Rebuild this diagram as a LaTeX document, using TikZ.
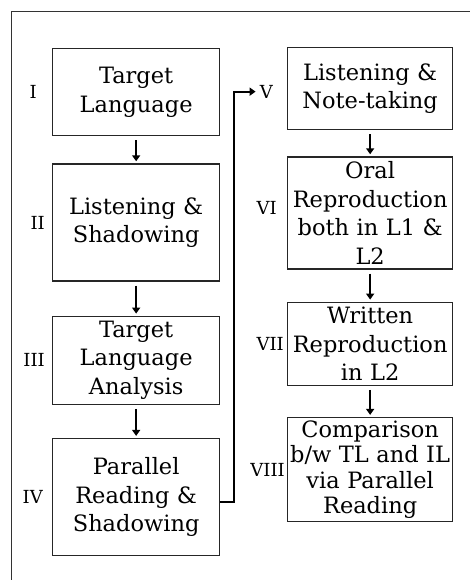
\documentclass[tikz,border=0pt]{standalone}
\usepackage{fontspec}
\setmainfont{DejaVu Serif}
\usetikzlibrary{positioning,arrows.meta}

\begin{document}
\begin{tikzpicture}[
    x=1pt, y=1pt,
    node distance=27pt,
    stagebox/.style={rectangle, draw=black!85, line width=1.3pt, text width=163pt, inner xsep=1pt, inner ysep=0pt, align=center, font=\fontsize{22.5}{28.5}\selectfont},
    numeral/.style={font=\fontsize{18}{20}\selectfont, inner sep=0pt},
    arrow/.style={-{Triangle[length=6pt,width=8pt]}, line width=2pt, shorten <=4pt, shorten >=2pt},
    link/.style={-{Triangle[length=6pt,width=8pt]}, line width=2pt, shorten >=4pt}
]
\useasboundingbox (0,0) rectangle (470,-580);

% Frame
\draw[line width=1pt, black!80] (11,-580) -- (11,-12) -- (470,-12);

% Left column
\node[stagebox, minimum width=167pt, minimum height=87pt, anchor=north west] (target) at (52,-48) {Target\\Language};
\node[stagebox, minimum width=167pt, minimum height=117pt, below=27pt of target] (shadow) {Listening \&\\Shadowing};
\node[stagebox, minimum width=167pt, minimum height=88pt, below=34pt of shadow] (analysis) {Target\\Language\\Analysis};
\node[stagebox, minimum width=167pt, minimum height=117pt, below=33pt of analysis] (parallel) {Parallel\\Reading \&\\Shadowing};

% Right column
\node[stagebox, minimum height=82pt, anchor=north west] (notes) at (287,-47) {Listening \&\\Note-taking};
\node[stagebox, minimum height=112pt, below=26pt of notes] (oral) {Oral\\Reproduction\\both in L1 \&\\L2};
\node[stagebox, minimum height=83pt, below=32pt of oral] (written) {Written\\Reproduction\\in L2};
\node[stagebox, minimum height=104pt, below=31pt of written, font=\fontsize{22.5}{25.3}\selectfont] (compare) {Comparison\\b/w TL and IL\\via Parallel\\Reading};

% Numbering
\node[numeral, left=15pt of target] (stepi) {I};
\node[numeral, left=7pt of shadow] (stepii) {II};
\node[numeral, left=7pt of analysis] (stepiii) {III};
\node[numeral, left=9pt of parallel] (stepiv) {IV};
\node[numeral, left=14pt of notes, yshift=-3pt] (stepv) {V};
\node[numeral, left=10pt of oral, yshift=5pt] (stepvi) {VI};
\node[numeral, left=3pt of written] (stepvii) {VII};
\node[numeral, left=2pt of compare] (stepviii) {VIII};

% Arrows
\draw[arrow] (target) -- (shadow);
\draw[arrow] (shadow) -- (analysis);
\draw[arrow] (analysis) -- (parallel);
\draw[arrow] (notes) -- (oral);
\draw[arrow] (oral) -- (written);
\draw[arrow] (written) -- (compare);

% Link to second column
\draw[link] ([yshift=-5pt]parallel.east) -- ++(14pt,0) |- (stepv.west);

\end{tikzpicture}
\end{document}
